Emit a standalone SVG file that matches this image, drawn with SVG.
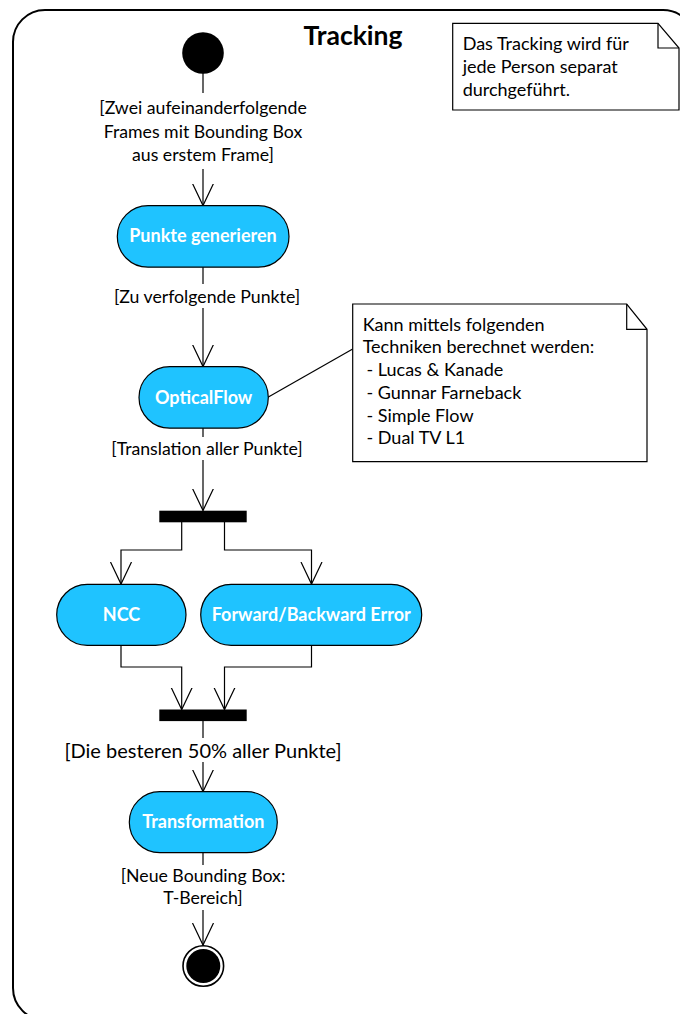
<svg xmlns="http://www.w3.org/2000/svg" width="680" height="1014" viewBox="0 0 680 1014">
  <defs>
    <style>
      .frame { fill: #ffffff; stroke: #000000; stroke-width: 2; }
      .action { fill: #1fc3ff; stroke: #000000; stroke-width: 1.2; }
      .action-label { font-family: Lato, "Open Sans", sans-serif; font-weight: bold; font-size: 18px; fill: #ffffff; text-anchor: middle; }
      .bar { fill: #000000; }
      .edge { fill: none; stroke: #000000; stroke-width: 1.2; }
      .guard { font-family: Lato, "Open Sans", sans-serif; font-size: 17.7px; fill: #000000; text-anchor: middle; }
      .note { fill: #ffffff; stroke: #000000; stroke-width: 1.2; }
      .note-fold { fill: none; stroke: #000000; stroke-width: 1.2; }
      .note-text { font-family: Lato, "Open Sans", sans-serif; font-size: 18px; fill: #000000; }
      .title { font-family: Lato, "Open Sans", sans-serif; font-weight: bold; font-size: 26.5px; fill: #000000; text-anchor: middle; }
    </style>
    <marker id="open-arrow" viewBox="0 0 24 24" refX="22" refY="12" markerWidth="24" markerHeight="24" markerUnits="userSpaceOnUse" orient="auto">
      <path d="M0,1.5 L22,12 L0,22.5" fill="none" stroke="#000000" stroke-width="1.2"/>
    </marker>
  </defs>

  <!-- activity frame -->
  <rect class="frame" x="13" y="10" width="682" height="1010" rx="32" ry="32"/>
  <text class="title" x="353" y="44.5">Tracking</text>

  <!-- connectors -->
  <g id="connectors">
    <line class="edge" x1="203" y1="73" x2="203" y2="93"/>
    <line class="edge" x1="203" y1="169" x2="203" y2="205.5" marker-end="url(#open-arrow)"/>
    <line class="edge" x1="203" y1="267" x2="203" y2="284"/>
    <line class="edge" x1="203" y1="308" x2="203" y2="366.5" marker-end="url(#open-arrow)"/>
    <line class="edge" x1="203" y1="428" x2="203" y2="437"/>
    <line class="edge" x1="203" y1="460" x2="203" y2="510.5" marker-end="url(#open-arrow)"/>
    <polyline class="edge" points="181.7,522 181.7,550 121,550 121,584" marker-end="url(#open-arrow)"/>
    <polyline class="edge" points="224.5,522 224.5,550 311.5,550 311.5,584" marker-end="url(#open-arrow)"/>
    <polyline class="edge" points="121,645.5 121,667 181.7,667 181.7,709.5" marker-end="url(#open-arrow)"/>
    <polyline class="edge" points="311.5,645.5 311.5,667 224.5,667 224.5,709.5" marker-end="url(#open-arrow)"/>
    <line class="edge" x1="203" y1="721" x2="203" y2="738"/>
    <line class="edge" x1="203" y1="762" x2="203" y2="791.5" marker-end="url(#open-arrow)"/>
    <line class="edge" x1="203" y1="853" x2="203" y2="865"/>
    <line class="edge" x1="203" y1="910" x2="203" y2="945" marker-end="url(#open-arrow)"/>
    <!-- note anchor -->
    <line class="edge" x1="267.5" y1="397.5" x2="352.7" y2="349"/>
  </g>

  <!-- guard labels -->
  <g id="guards">
    <text class="guard" x="203" y="114">[Zwei aufeinanderfolgende</text>
    <text class="guard" x="203" y="137.5">Frames mit Bounding Box</text>
    <text class="guard" x="203" y="161">aus erstem Frame]</text>
    <text class="guard" x="207" y="302.5">[Zu verfolgende Punkte]</text>
    <text class="guard" x="207" y="455">[Translation aller Punkte]</text>
    <text class="guard" x="203" y="757.5" style="font-size:20px">[Die besteren 50% aller Punkte]</text>
    <text class="guard" x="203" y="881.5">[Neue Bounding Box:</text>
    <text class="guard" x="203" y="903.5">T-Bereich]</text>
  </g>

  <g id="start">
    <circle cx="203" cy="53" r="20.8" fill="#000000"/>
  </g>

  <g id="punkte-generieren">
    <rect class="action" x="117.3" y="205.7" width="171.7" height="61.5" rx="30.7"/>
    <text class="action-label" x="203" y="242">Punkte generieren</text>
  </g>

  <g id="optical-flow">
    <rect class="action" x="139" y="366.7" width="129.3" height="61.5" rx="30.7"/>
    <text class="action-label" x="203.6" y="403.5">OpticalFlow</text>
  </g>

  <g id="fork">
    <rect class="bar" x="159.3" y="510.7" width="87.4" height="11.6"/>
  </g>

  <g id="ncc">
    <rect class="action" x="56.7" y="584.3" width="129.3" height="61" rx="30.5"/>
    <text class="action-label" x="121.5" y="620.5">NCC</text>
  </g>

  <g id="forward-backward-error">
    <rect class="action" x="200.7" y="584.3" width="221" height="61" rx="30.5"/>
    <text class="action-label" x="311.2" y="620.5">Forward/Backward Error</text>
  </g>

  <g id="join">
    <rect class="bar" x="159.3" y="709.5" width="87.4" height="11.6"/>
  </g>

  <g id="transformation">
    <rect class="action" x="129.3" y="791.7" width="148" height="61" rx="30.5"/>
    <text class="action-label" x="203.3" y="828">Transformation</text>
  </g>

  <g id="end">
    <circle cx="203.3" cy="966" r="20.3" fill="#ffffff" stroke="#000000" stroke-width="1.6"/>
    <circle cx="203.3" cy="966" r="17" fill="#000000"/>
  </g>

  <g id="note-person">
    <path class="note" d="M452.7,23.3 H658 L679,48 V110 H452.7 Z"/>
    <path class="note-fold" d="M658,23.3 V48 H679"/>
    <text class="note-text" x="462.7" y="50">Das Tracking wird für</text>
    <text class="note-text" x="462.7" y="73.3">jede Person separat</text>
    <text class="note-text" x="462.7" y="96">durchgeführt.</text>
  </g>

  <g id="note-techniques">
    <path class="note" d="M352.7,304 H626.7 L647,329.3 V461.7 H352.7 Z"/>
    <path class="note-fold" d="M626.7,304 V329.3 H647"/>
    <text class="note-text" x="362.7" y="330.5">Kann mittels folgenden</text>
    <text class="note-text" x="362.7" y="353.3">Techniken berechnet werden:</text>
    <text class="note-text" x="366.5" y="376">- Lucas &amp; Kanade</text>
    <text class="note-text" x="366.5" y="398.8">- Gunnar Farneback</text>
    <text class="note-text" x="366.5" y="421.6">- Simple Flow</text>
    <text class="note-text" x="366.5" y="444.4">- Dual TV L1</text>
  </g>
</svg>
